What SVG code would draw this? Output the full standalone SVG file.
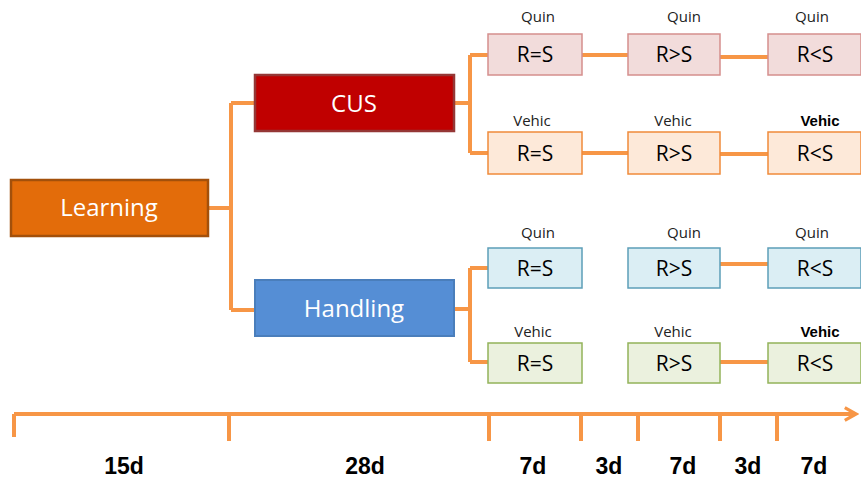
<svg xmlns="http://www.w3.org/2000/svg" width="861" height="479" viewBox="0 0 861 479">
<defs>
<style>
.big{font-family:"Open Sans","Liberation Sans",sans-serif;font-size:24px;fill:#fff;text-anchor:middle}
.sm{font-family:"Open Sans","Liberation Sans",sans-serif;font-size:21px;fill:#000;text-anchor:middle}
.lb{font-family:"Open Sans","Liberation Sans",sans-serif;font-size:15px;fill:#222;text-anchor:middle}
.lbb{font-family:"Liberation Sans",sans-serif;font-size:15px;font-weight:bold;fill:#000;text-anchor:middle}
.d{font-family:"Liberation Sans",sans-serif;font-size:23px;font-weight:bold;fill:#000;text-anchor:middle}
.c{fill:none;stroke:#F79646;stroke-width:4}
.r1{fill:#F2DCDB;stroke:#D58F8D;stroke-width:1.5}
.r2{fill:#FDE9D9;stroke:#F08A3A;stroke-width:1.5}
.r3{fill:#DBEEF4;stroke:#5C9EB8;stroke-width:1.5}
.r4{fill:#EBF1DE;stroke:#93B35A;stroke-width:1.5}
</style>
<marker id="ah" viewBox="0 0 10 10" refX="8" refY="5" markerWidth="4" markerHeight="4" orient="auto"><path d="M1,1 L8,5 L1,9" fill="none" stroke="#F79646" stroke-width="2"/></marker>
</defs>
<rect width="861" height="479" fill="#fff"/>
<g id="connectors">
<path class="c" d="M208,208 H231 M231,103 V310 M231,103 H255 M231,310 H255"/>
<path class="c" d="M454,103 H470 M470,55 V153 M470,55 H488 M470,153 H488"/>
<path class="c" d="M454,309 H470 M470,268 V362 M470,268 H488 M470,362 H488"/>
<path class="c" d="M582,55 H628 M720,57 H768"/>
<path class="c" d="M582,153 H628 M720,154 H768"/>
<path class="c" d="M720,264 H768"/>
<path class="c" d="M720,362 H768"/>
</g>
<g id="learning"><rect x="11" y="180" width="197" height="56" fill="#E36C0A" stroke="#A3500B" stroke-width="2.5"/><text class="big" x="109" y="216">Learning</text></g>
<g id="cus"><rect x="255" y="75" width="199" height="56" fill="#C00000" stroke="#953735" stroke-width="2.5"/><text class="big" x="354" y="112">CUS</text></g>
<g id="handling"><rect x="255" y="280" width="199" height="56" fill="#558ED5" stroke="#4A7EBB" stroke-width="2"/><text class="big" x="354" y="317">Handling</text></g>
<g id="q1"><text class="lb" x="538" y="22">Quin</text><rect class="r1" x="488" y="34" width="94" height="41"/><text class="sm" x="535" y="62">R=S</text></g>
<g id="q2"><text class="lb" x="684" y="22">Quin</text><rect class="r1" x="628" y="34" width="92" height="41"/><text class="sm" x="674" y="62">R&gt;S</text></g>
<g id="q3"><text class="lb" x="812" y="22">Quin</text><rect class="r1" x="768" y="34" width="93" height="41"/><text class="sm" x="815" y="62">R&lt;S</text></g>
<g id="v1"><text class="lb" x="532" y="126">Vehic</text><rect class="r2" x="488" y="132" width="94" height="42"/><text class="sm" x="535" y="161">R=S</text></g>
<g id="v2"><text class="lb" x="673" y="126">Vehic</text><rect class="r2" x="628" y="132" width="92" height="42"/><text class="sm" x="674" y="161">R&gt;S</text></g>
<g id="v3"><text class="lbb" x="820" y="126">Vehic</text><rect class="r2" x="768" y="132" width="93" height="42"/><text class="sm" x="815" y="161">R&lt;S</text></g>
<g id="hq1"><text class="lb" x="538" y="238">Quin</text><rect class="r3" x="488" y="248" width="94" height="40"/><text class="sm" x="535" y="276">R=S</text></g>
<g id="hq2"><text class="lb" x="684" y="238">Quin</text><rect class="r3" x="628" y="248" width="92" height="40"/><text class="sm" x="674" y="276">R&gt;S</text></g>
<g id="hq3"><text class="lb" x="812" y="238">Quin</text><rect class="r3" x="768" y="248" width="93" height="40"/><text class="sm" x="815" y="276">R&lt;S</text></g>
<g id="hv1"><text class="lb" x="533" y="337">Vehic</text><rect class="r4" x="488" y="343" width="94" height="40"/><text class="sm" x="535" y="371">R=S</text></g>
<g id="hv2"><text class="lb" x="673" y="337">Vehic</text><rect class="r4" x="628" y="343" width="92" height="40"/><text class="sm" x="674" y="371">R&gt;S</text></g>
<g id="hv3"><text class="lbb" x="820" y="337">Vehic</text><rect class="r4" x="768" y="343" width="93" height="40"/><text class="sm" x="815" y="371">R&lt;S</text></g>
<g id="timeline">
<path class="c" d="M14,414 H856" marker-end="url(#ah)"/>
<path class="c" d="M14,414 V437 M229,414 V441 M489,414 V441 M581,414 V441 M638,414 V441 M720,414 V441 M777,414 V441"/>
<text class="d" x="124" y="474">15d</text>
<text class="d" x="365" y="474">28d</text>
<text class="d" x="533" y="474">7d</text>
<text class="d" x="609" y="474">3d</text>
<text class="d" x="683" y="474">7d</text>
<text class="d" x="748" y="474">3d</text>
<text class="d" x="814" y="474">7d</text>
</g>
</svg>
